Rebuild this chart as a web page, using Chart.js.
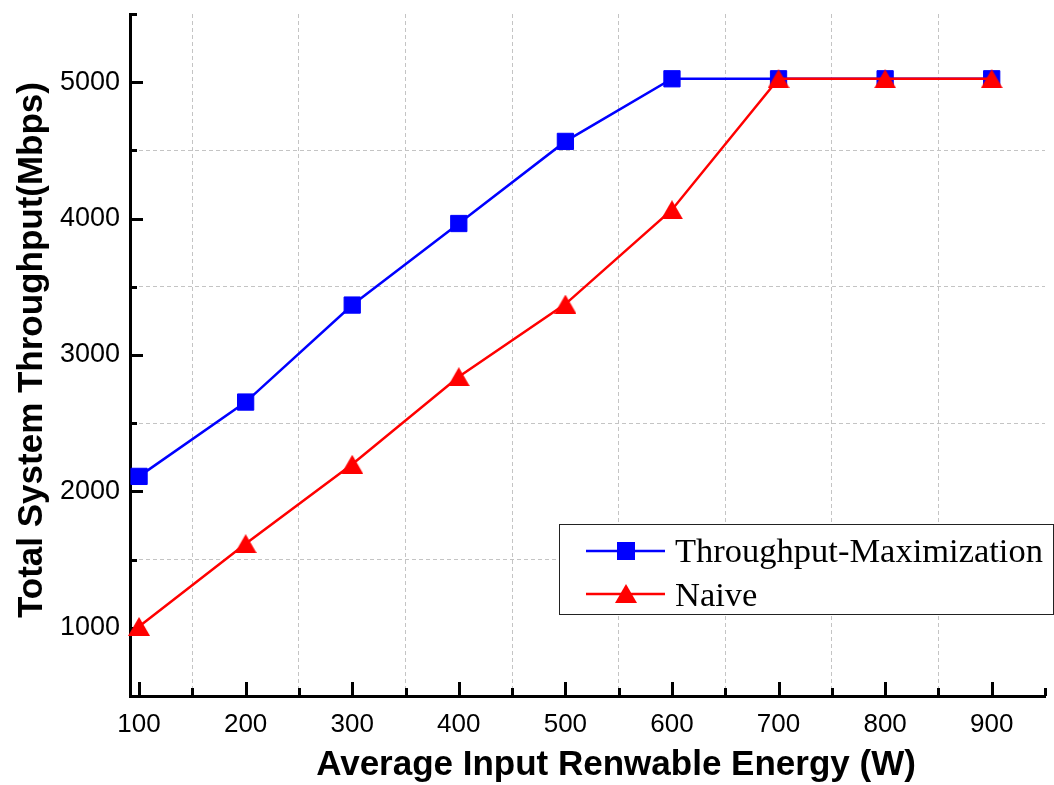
<!DOCTYPE html>
<html>
<head>
<meta charset="utf-8">
<title>Total System Throughput</title>
<script src="https://cdn.jsdelivr.net/npm/chart.js@4.4.0/dist/chart.umd.min.js"></script>
<style>
  html, body { margin: 0; padding: 0; background: #ffffff; }
  #wrap { width: 1054px; height: 785px; }
</style>
</head>
<body>
<div id="wrap"><canvas id="lineChart" width="1054" height="785"></canvas></div>
<script>
/* ---------------------------------------------------
   data
----------------------------------------------------- */
var energy = [100, 200, 300, 400, 500, 600, 700, 800, 900];
var throughputMax = [2110, 2655, 3366, 3964, 4566, 5025, 5025, 5025, 5025];
var naive = [1010, 1617, 2199, 2841, 3373, 4065, 5025, 5025, 5025];
var seriesNames = ['Throughput-Maximization', 'Naive'];

var xTicks = [100, 150, 200, 250, 300, 350, 400, 450, 500, 550, 600, 650, 700, 750, 800, 850, 900, 950];
var yTicks = [500, 1000, 1500, 2000, 2500, 3000, 3500, 4000, 4500, 5000, 5500];
var yLabels = [1000, 2000, 3000, 4000, 5000];

var xTitle = 'Average Input Renwable Energy (W)';
var yTitle = 'Total System Throughput(Mbps)';

/* ---------------------------------------------------
   markers
----------------------------------------------------- */
function makeTriangle(color, w, h)
{
	var c = document.createElement('canvas');
	c.width = w;
	c.height = h;
	var g = c.getContext('2d');
	g.fillStyle = color;
	g.beginPath();
	g.moveTo(w / 2, 0);
	g.lineTo(w, h);
	g.lineTo(0, h);
	g.closePath();
	g.fill();
	return c;
}
var redTriangle = makeTriangle('#ff0000', 22, 19);

/* ---------------------------------------------------
   axis tick marks, titles and legend
----------------------------------------------------- */
var axisDecor = {
	id: 'axisDecor',
	beforeDatasetsDraw: function (chart) {
		var ctx = chart.ctx;
		var xs = chart.scales.x;
		var ys = chart.scales.y;
		var area = chart.chartArea;
		ctx.save();
		ctx.strokeStyle = '#000';
		ctx.lineWidth = 3;
		ctx.beginPath();
		for (var i = 0; i < xTicks.length; i++) {
			var px = Math.round(xs.getPixelForValue(xTicks[i])) + 0.5;
			var len = xTicks[i] % 100 === 0 ? 14 : 8;
			ctx.moveTo(px, area.bottom);
			ctx.lineTo(px, area.bottom - len);
		}
		for (var j = 0; j < yTicks.length; j++) {
			if (yTicks[j] === 500) continue;
			var py = Math.round(ys.getPixelForValue(yTicks[j])) + 0.5;
			var ylen = yTicks[j] % 1000 === 0 ? 13 : 7;
			ctx.moveTo(area.left, py);
			ctx.lineTo(area.left + ylen, py);
		}
		ctx.stroke();
		ctx.restore();
	},
	afterDraw: function (chart) {
		var ctx = chart.ctx;
		ctx.save();

		// axis titles
		ctx.fillStyle = '#000';
		ctx.font = 'bold 35px "Liberation Sans", Arial, sans-serif';
		ctx.textAlign = 'center';
		ctx.textBaseline = 'alphabetic';
		ctx.fillText(xTitle, 616, 775);
		ctx.save();
		ctx.translate(42, 350);
		ctx.rotate(-Math.PI / 2);
		ctx.fillText(yTitle, 0, 0);
		ctx.restore();

		// legend box
		ctx.fillStyle = '#fff';
		ctx.fillRect(559, 524, 494, 90);
		ctx.strokeStyle = '#222';
		ctx.lineWidth = 1;
		ctx.strokeRect(559.5, 524.5, 494, 90);

		var rows = [551, 594];
		var colors = ['#0000ff', '#ff0000'];
		for (var k = 0; k < rows.length; k++) {
			ctx.strokeStyle = colors[k];
			ctx.lineWidth = 2.5;
			ctx.beginPath();
			ctx.moveTo(586, rows[k]);
			ctx.lineTo(665, rows[k]);
			ctx.stroke();
		}
		ctx.fillStyle = '#0000ff';
		ctx.fillRect(617, 542, 18, 18);
		ctx.drawImage(redTriangle, 626 - 11, 594 - 10);

		ctx.fillStyle = '#000';
		ctx.font = '34.5px "Liberation Serif", "Times New Roman", serif';
		ctx.textAlign = 'left';
		ctx.fillText(seriesNames[0], 675, 562);
		ctx.fillText(seriesNames[1], 675, 606);
		ctx.restore();
	}
};

/* ---------------------------------------------------
   line chart
----------------------------------------------------- */
function gridColorX(c)
{
	var v = c.tick ? c.tick.value : 0;
	return (v % 100 === 50 && v !== 950) ? '#c4c4c4' : 'rgba(0,0,0,0)';
}
function gridColorY(c)
{
	var v = c.tick ? c.tick.value : 0;
	return (v % 1000 === 500 && v !== 500 && v !== 5500) ? '#c4c4c4' : 'rgba(0,0,0,0)';
}
function noPadding(scale)
{
	scale.paddingTop = 0;
	scale.paddingBottom = 0;
	scale.paddingLeft = 0;
	scale.paddingRight = 0;
}

var ctxL = document.getElementById('lineChart').getContext('2d');
var myLineChart = new Chart(ctxL, {
	type: 'line',
	data: {
		labels: energy,
		datasets: [{
			label: seriesNames[0],
			data: energy.map(function (e, i) { return {x: e, y: throughputMax[i]}; }),
			borderColor: '#0000ff',
			backgroundColor: '#0000ff',
			borderWidth: 2.5,
			pointStyle: 'rect',
			pointRadius: 11.5,
			pointBorderWidth: 1,
			pointHoverRadius: 11.5,
			clip: false,
			tension: 0,
			order: 2
		}, {
			label: seriesNames[1],
			data: energy.map(function (e, i) { return {x: e, y: naive[i]}; }),
			borderColor: '#ff0000',
			backgroundColor: '#ff0000',
			borderWidth: 2.5,
			pointStyle: redTriangle,
			pointRadius: 11,
			pointHoverRadius: 11,
			clip: false,
			tension: 0,
			order: 1
		}]
	},
	options: {
		responsive: false,
		animation: false,
		devicePixelRatio: 1,
		layout: { autoPadding: false, padding: { left: 0, right: 9, top: 14, bottom: 0 } },
		plugins: {
			legend: { display: false },
			tooltip: { enabled: false }
		},
		scales: {
			x: {
				type: 'linear',
				min: 91.5,
				max: 950,
				afterBuildTicks: function (scale) {
					scale.ticks = xTicks.map(function (v) { return {value: v}; });
				},
				afterFit: function (scale) { scale.height = 89; noPadding(scale); },
				ticks: {
					autoSkip: false,
					maxRotation: 0,
					padding: 0,
					color: '#000',
					font: { family: '"Liberation Sans", Arial, sans-serif', size: 26 },
					callback: function (v) { return v % 100 === 0 ? String(v) : ''; }
				},
				grid: { color: gridColorX, lineWidth: 1, drawTicks: true, tickLength: 13, tickColor: 'rgba(0,0,0,0)' },
				border: { display: true, color: '#000', width: 3, dash: [4, 3] }
			},
			y: {
				type: 'linear',
				min: 500,
				max: 5500,
				afterBuildTicks: function (scale) {
					scale.ticks = yTicks.map(function (v) { return {value: v}; });
				},
				afterFit: function (scale) { scale.width = 130; noPadding(scale); },
				ticks: {
					autoSkip: false,
					padding: 10,
					color: '#000',
					font: { family: '"Liberation Sans", Arial, sans-serif', size: 27 },
					callback: function (v) { return yLabels.indexOf(v) >= 0 ? String(v) : ''; }
				},
				grid: { color: gridColorY, lineWidth: 1, drawTicks: false },
				border: { display: true, color: '#000', width: 3, dash: [4, 3] }
			}
		}
	},
	plugins: [axisDecor]
});
</script>
</body>
</html>
